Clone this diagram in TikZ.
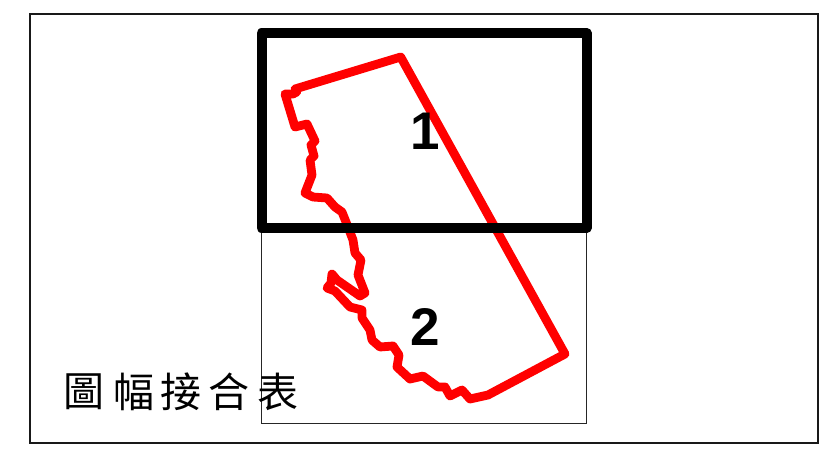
\documentclass[tikz,border=0pt]{standalone}
\usepackage{fontspec}
\setmainfont{Liberation Sans}
\newfontfamily\cjkfont{Noto Sans CJK TC}
\tikzset{
  thinframe/.style={draw=black!85,line width=0.9pt},
  outerframe/.style={draw=black!90,line width=2pt},
  thickframe/.style={draw=black,line width=10pt,line join=round},
  boundary/.style={draw=red,line width=8.8pt,line join=round,line cap=round},
  sheetno/.style={font=\fontsize{53}{53}\selectfont\bfseries,inner sep=0pt,text=black},
  chartitle/.style={font=\cjkfont\fontsize{41}{41}\selectfont,inner sep=0pt,text=black}
}
\begin{document}
\begin{tikzpicture}[x=1pt,y=-1pt]
\useasboundingbox (0,0) rectangle (828,450);
\fill[white] (0,0) rectangle (828,450);
\draw[outerframe] (30,14) rectangle (818,442.5);
\draw[thinframe] (261.5,228) rectangle (586.5,423);
\draw[boundary] (400.7,57) -- (295,89) -- (296.7,92) -- (293,94) -- (285,94) -- (295,127) -- (307,124) -- (315,141) -- (311,145) -- (314,156) -- (310,160) -- (312,175) -- (305,193) -- (313,197) -- (327,198) -- (335,207) -- (342,212) -- (348,227) -- (353,240) -- (355,253) -- (361,260) -- (358,275) -- (365,293) -- (360,296) -- (337,280) -- (332,274) -- (331,283) -- (327,288) -- (335,291) -- (350,307) -- (362,310) -- (362,318) -- (370,330) -- (372,340) -- (380,347) -- (393,346) -- (399,355) -- (397,367) -- (410,379) -- (423,376) -- (438,387) -- (445,387) -- (450,396) -- (462,390) -- (470,399) -- (488,395) -- (565,354) -- cycle;
\draw[thickframe] (261.5,33) rectangle (586.5,228);
\node[sheetno] (one) at (425,131) {1};
\node[sheetno] (two) at (425,327) {2};
\node[chartitle] (t1) at (84,392) {圖};
\node[chartitle] (t2) at (134,392) {幅};
\node[chartitle] (t3) at (181,392) {接};
\node[chartitle] (t4) at (229,392) {合};
\node[chartitle] (t5) at (278,392) {表};
\end{tikzpicture}
\end{document}
